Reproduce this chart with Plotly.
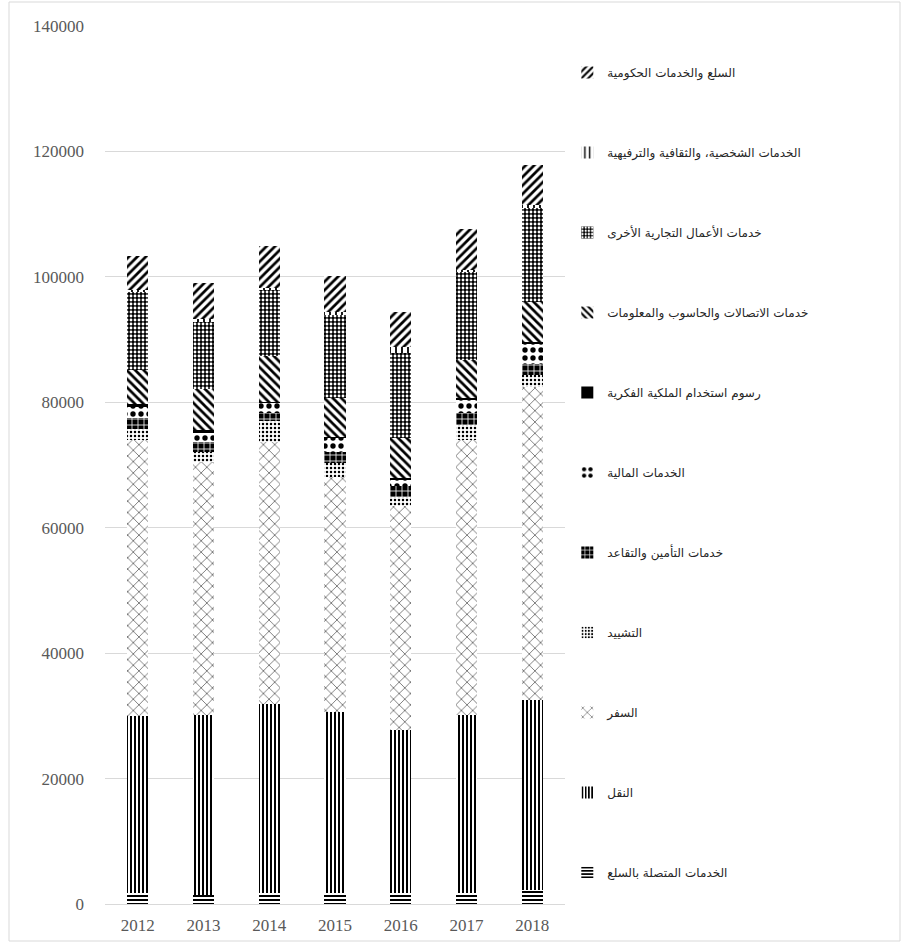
import plotly.graph_objects as go

years = ["2012", "2013", "2014", "2015", "2016", "2017", "2018"]

goods_related = [1800, 1400, 1800, 1700, 1700, 1700, 2300]
transport = [28200, 28700, 30050, 28870, 26050, 28390, 30230]
travel = [44000, 40400, 41870, 37570, 35720, 43900, 49960]
construction = [1750, 1600, 3350, 2140, 1435, 2390, 1870]
insurance = [1750, 1600, 1180, 1850, 1750, 1870, 1750]
financial = [1900, 1550, 1720, 2180, 1040, 2200, 3110]
ip_fees = [300, 300, 150, 200, 190, 190, 320]
telecom = [5400, 6550, 7200, 6120, 6380, 6100, 6500]
other_business = [12500, 10700, 10640, 13235, 13650, 14190, 14940]
personal = [350, 550, 320, 530, 960, 240, 480]
government = [5350, 5600, 6700, 5790, 5580, 6460, 6380]

names = [
    "الخدمات المتصلة بالسلع",
    "النقل",
    "السفر",
    "التشييد",
    "خدمات التأمين والتقاعد",
    "الخدمات المالية",
    "رسوم استخدام الملكية الفكرية",
    "خدمات الاتصالات والحاسوب والمعلومات",
    "خدمات الأعمال التجارية الأخرى",
    "الخدمات الشخصية، والثقافية والترفيهية",
    "السلع والخدمات الحكومية",
]
series = [goods_related, transport, travel, construction, insurance, financial,
          ip_fees, telecom, other_business, personal, government]

# pattern styles: (shape, fg, bg, size, solidity)
styles = [
    ("-", "black", "white", 4, 0.5),
    ("|", "black", "white", 4, 0.5),
    ("x", "black", "white", 8, 0.12),
    (".", "black", "white", 4, 0.3),
    ("+", "white", "black", 6, 0.25),
    (".", "black", "white", 8, 0.35),
    ("", "black", "black", 4, 1.0),
    ("\\", "black", "white", 6, 0.45),
    (".", "white", "black", 4, 0.4),
    ("|", "black", "white", 6, 0.3),
    ("/", "black", "white", 6, 0.45),
]

fig = go.Figure()
n = len(names)
for i, (nm, vals, st) in enumerate(zip(names, series, styles)):
    shape, fg, bg, sz, sol = st
    if shape == "":
        marker = dict(color="black", line=dict(width=0))
    else:
        marker = dict(color=bg, line=dict(width=0),
                      pattern=dict(shape=shape, fgcolor=fg, bgcolor=bg,
                                   size=sz, solidity=sol, fillmode="replace"))
    fig.add_trace(go.Bar(x=years, y=vals, name=nm, marker=marker,
                         legendgroup="g%d" % i, legendrank=100 + (n - i)))

fig.update_layout(
    width=904, height=950,
    barmode="stack",
    bargap=0.68,
    plot_bgcolor="white",
    paper_bgcolor="white",
    margin=dict(l=105, r=339, t=26, b=46),
    font=dict(family="Liberation Serif", size=16, color="#595959"),
    legend=dict(
        x=1.005, y=0.9636, xanchor="left", yanchor="top",
        traceorder="grouped",
        tracegroupgap=61,
        font=dict(family="DejaVu Sans", size=12, color="#262626"),
        itemwidth=30,
        bgcolor="rgba(0,0,0,0)",
    ),
    xaxis=dict(showgrid=False, showline=True, linecolor="#d9d9d9", linewidth=1,
               ticks="", ticklabelstandoff=6,
               tickfont=dict(family="Liberation Serif", size=17, color="#595959")),
    yaxis=dict(range=[0, 140000], dtick=20000, showgrid=True, gridcolor="#d9d9d9",
               zeroline=False, showline=False, ticks="", tickformat="d",
               tickfont=dict(family="Liberation Serif", size=17, color="#595959"),
               ticklabelstandoff=20),
    shapes=[dict(type="rect", xref="paper", yref="paper",
                 x0=(9 - 105) / 460, x1=(900 - 105) / 460,
                 y0=-(941 - 904) / 878, y1=1 + (26 - 2) / 878,
                 line=dict(color="#d9d9d9", width=1), fillcolor="rgba(0,0,0,0)",
                 layer="below")],
)

fig.write_html("out.html")
